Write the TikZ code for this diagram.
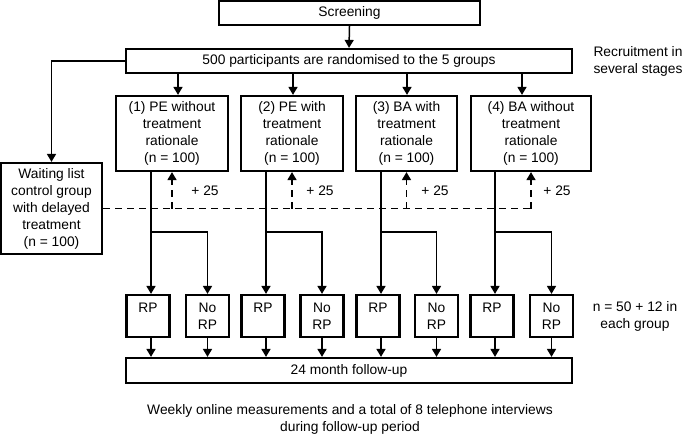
\documentclass[tikz,border=0pt]{standalone}
\usepackage{fontspec}
\setmainfont{Liberation Sans}
\usetikzlibrary{arrows.meta,calc}
\begin{document}
\begin{tikzpicture}[x=1pt,y=-1pt,
  every node/.style={font=\fontsize{13.8}{17}\selectfont, inner sep=0pt, align=center},
  box/.style={draw, line width=2.2pt, rectangle},
  rpbox/.style={box, minimum width=43pt, minimum height=42pt},
  conn/.style={line width=1.5pt, -{Triangle[length=8pt,width=9pt]}},
  plain/.style={line width=1.5pt},
  dashconn/.style={line width=1.5pt, dash pattern=on 7pt off 5pt, -{Triangle[length=8pt,width=9pt]}},
  dashplain/.style={line width=1.5pt, dash pattern=on 7pt off 5pt}
]
\useasboundingbox (0,0) rectangle (685,434);

\node[box, minimum width=261pt, minimum height=24pt] (scr) at (349.5,13) {Screening};
\node[box, minimum width=446pt, minimum height=24pt] (rand) at (349,61) {500 participants are randomised to the 5 groups};
\node (recr) at (638,61) {Recruitment in\\several stages};

\node[box, minimum width=112pt, minimum height=75pt] (g1) at (172,133.5) {(1) PE without\\treatment\\rationale\\(n = 100)};
\node[box, minimum width=102pt, minimum height=75pt] (g2) at (292,133.5) {(2) PE with\\treatment\\rationale\\(n = 100)};
\node[box, minimum width=101pt, minimum height=75pt] (g3) at (406.5,133.5) {(3) BA with\\treatment\\rationale\\(n = 100)};
\node[box, minimum width=120pt, minimum height=75pt] (g4) at (531,133.5) {(4) BA without\\treatment\\rationale\\(n = 100)};

\node[box, minimum width=101pt, minimum height=91pt] (wait) at (51.5,208.5) {Waiting list\\control group\\with delayed\\treatment\\(n = 100)};

\node (p1) at (205,191) {+ 25};
\node (p2) at (320,191) {+ 25};
\node (p3) at (435,191) {+ 25};
\node (p4) at (557,191) {+ 25};

\node[rpbox] (rp1) at (148,316) {RP\\\phantom{RP}};
\node[rpbox] (nr1) at (207.5,316) {No\\RP};
\node[rpbox] (rp2) at (263,316) {RP\\\phantom{RP}};
\node[rpbox] (nr2) at (322,316) {No\\RP};
\node[rpbox] (rp3) at (378,316) {RP\\\phantom{RP}};
\node[rpbox] (nr3) at (436.5,316) {No\\RP};
\node[rpbox] (rp4) at (492,316) {RP\\\phantom{RP}};
\node[rpbox] (nr4) at (551.5,316) {No\\RP};

\node (ngrp) at (635,316) {n = 50 + 12 in\\each group};

\node[box, minimum width=446pt, minimum height=25pt] (fu) at (349,370.5) {24 month follow-up};

\node (bot) at (350,419) {Weekly online measurements and a total of 8 telephone interviews\\during follow-up period};

% screening to randomisation
\draw[conn] (scr.south) -- (rand.north);
% randomisation to groups
\draw[conn] ([xshift=6pt]g1.north |- rand.south) -- ([xshift=6pt]g1.north);
\draw[conn] ([xshift=1pt]g2.north |- rand.south) -- ([xshift=1pt]g2.north);
\draw[conn] ([xshift=0.5pt]g3.north |- rand.south) -- ([xshift=0.5pt]g3.north);
\draw[conn] ([xshift=-9pt]g4.north |- rand.south) -- ([xshift=-9pt]g4.north);
% randomisation to waiting list
\draw[conn] (rand.west) -| (wait.north);

% dashed line from waiting list
\coordinate (dj) at (g4.south |- wait.east);
\draw[dashplain] (wait.east) -- (dj);
\draw[dashconn] (g1.south |- wait.east) -- (g1.south);
\draw[dashconn] (g2.south |- wait.east) -- (g2.south);
\draw[dashconn] (g3.south |- wait.east) -- (g3.south);
\draw[dashconn] (dj) -- (g4.south);

% groups to RP / No RP
\foreach \g/\r/\n in {g1/rp1/nr1, g2/rp2/nr2, g3/rp3/nr3, g4/rp4/nr4}{
  \draw[conn] ([xshift=3pt]\g.south -| \r.north) -- ([xshift=3pt]\r.north);
  \draw[conn] ($(\r.north)+(3,-62)$) -| (\n.north);
}
% RP boxes to follow-up
\foreach \b/\s in {rp1/3,nr1/0,rp2/3,nr2/0,rp3/3,nr3/0,rp4/3,nr4/0}{
  \draw[conn] ([xshift=\s pt]\b.south) -- ([xshift=\s pt]\b.south |- fu.north);
}
\end{tikzpicture}
\end{document}
